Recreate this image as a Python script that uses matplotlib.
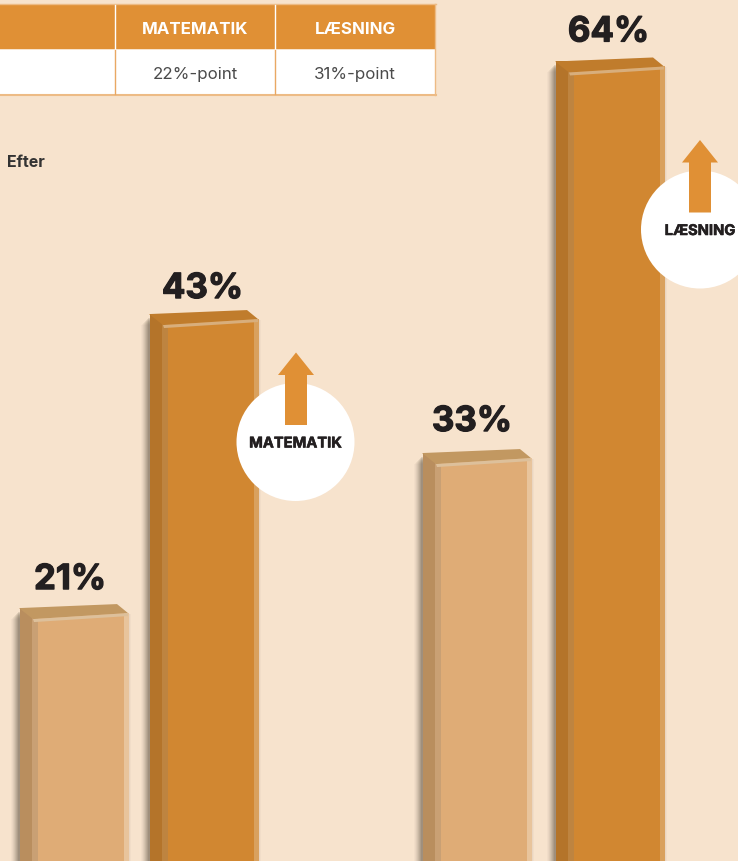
import matplotlib
matplotlib.use('Agg')
import matplotlib.pyplot as plt
import matplotlib.patheffects as pe
from matplotlib.patches import Polygon, Circle, Rectangle

# values printed on the bars
values = [21, 43, 33, 64]
# the bars in the picture are not quite to scale, so heights are read off separately
drawn_heights = [21, 43, 32.6, 61.9]
subjects = ['MATEMATIK', 'LÆSNING']
table_values = ['22%-point', '31%-point']

# left edge of each bar in pixels
bar_left = [19, 149, 422, 555]
label_dx = [51, 53.5, 50, 53.5]
label_dy = [28, 25, 31, 29]
light = dict(front='#DFAC76', side='#B98E5E', band='#C9A074', top='#C29861', edge='#E8C49C', hi='#DDC09B')
dark = dict(front='#D18731', side='#B4742A', band='#BE8440', top='#C07C2C', edge='#D9A15E', hi='#D8AE7C')
bar_styles = [light, dark, light, dark]

plt.rcParams['font.family'] = ['Inter', 'DejaVu Sans']

BG = '#F7E3CD'
ORANGE = '#E09035'
TEXT = '#231F20'

fig = plt.figure(figsize=(7.38, 8.62), dpi=100, facecolor=BG)

PX = 64.5 / 862  # one pixel in y units

# bars axis, x in pixels, y in percent
ax = fig.add_axes([0, 0, 1, 1])
ax.set_xlim(0, 738)
ax.set_ylim(2 + PX, 66.5 + PX)
ax.axis('off')

# overlay in pixels for table, circles and arrows
ov = fig.add_axes([0, 0, 1, 1])
ov.set_xlim(0, 738)
ov.set_ylim(861, -1)
ov.axis('off')
ov.patch.set_alpha(0)

for x0, h, val, st, dx, dy in zip(bar_left, drawn_heights, values, bar_styles, label_dx, label_dy):
    # soft shadow
    for i, a in zip(range(8, 0, -1), [0.03, 0.04, 0.06, 0.07, 0.09, 0.10, 0.12, 0.14]):
        ax.bar(x0 - i, h - (3 + i) * PX, width=i + 2, align='edge', color='#4A4030', alpha=a, lw=0, zorder=1)
    for i, a in zip([3, 2, 1], [0.03, 0.04, 0.05]):
        ax.bar(x0 + 100, h - 6 * PX, width=9 + i, align='edge', color='#4A4030', alpha=a, lw=0, zorder=1)

    ax.bar(x0 + 0.5, h, width=13, align='edge', color=st['side'], lw=0, zorder=2)
    ax.bar(x0 + 13, h - 10 * PX, width=7, align='edge', color=st['band'], lw=0, zorder=2)
    ax.bar(x0 + 19, h - 5 * PX, width=87, align='edge', color=st['front'], lw=0, zorder=2)
    ax.bar(x0 + 105, h - 5 * PX, width=5, align='edge', color=st['edge'], lw=0, zorder=2)

    top = [(x0, h), (x0 + 98, h + 4 * PX), (x0 + 109, h - 5 * PX), (x0 + 14, h - 11 * PX)]
    ax.add_patch(Polygon(top, closed=True, fc=st['top'], ec='none', zorder=3))
    hi = [(x0 + 14, h - 11 * PX), (x0 + 109, h - 5 * PX), (x0 + 109, h - 8 * PX), (x0 + 15, h - 14 * PX)]
    ax.add_patch(Polygon(hi, closed=True, fc=st['hi'], ec='none', zorder=3))

    t = ax.text(x0 + dx, h + dy * PX, f'{val}%', ha='center', va='center', fontsize=25,
                fontweight='bold', color=TEXT, zorder=5)
    t.set_path_effects([pe.withStroke(linewidth=0.9, foreground=TEXT)])

# table
ov.add_patch(Rectangle((-2, 4), 437.5, 45, fc=ORANGE, ec='none'))
ov.add_patch(Rectangle((-2, 49.5), 437.5, 45, fc='white', ec='none'))
ov.plot([-2, 435.5], [94.5, 94.5], color='#EDBB85', lw=1.5)
ov.plot([-2, 435.5], [3.8, 3.8], color='#EDBB85', lw=1)
ov.plot([435.3, 435.3], [4, 95], color='#EDBB85', lw=1)
for x in [114.5, 275]:
    ov.plot([x, x], [5, 49], color='white', lw=1)
    ov.plot([x, x], [50, 94], color='#E9A863', lw=1)
for cx, name, tv in zip([195, 355], subjects, table_values):
    ov.text(cx, 28.5, name, ha='center', va='center', fontsize=12.2, fontweight='bold', color='white')
    ov.text(cx, 73.5, tv, ha='center', va='center', fontsize=12.2, fontweight='normal', color='#4A4A4A')

ov.text(7, 161.5, 'Efter', ha='left', va='center', fontsize=11.5, fontweight='bold', color='#333333')

# circles with arrows
for cx, cy, stem, name, tx in [(295.5, 442, 296, subjects[0], 295.5), (700, 229.5, 700, subjects[1], 700)]:
    ov.add_patch(Circle((cx, cy), 59, fc='white', ec='none', zorder=4))
    tip = cy - 89.5
    arrow = [(stem, tip), (stem + 18, tip + 22.5), (stem + 11, tip + 22.5), (stem + 11, tip + 72.5),
             (stem - 11, tip + 72.5), (stem - 11, tip + 22.5), (stem - 18, tip + 22.5)]
    ov.add_patch(Polygon(arrow, closed=True, fc=ORANGE, ec='none', zorder=5))
    t = ov.text(tx, cy + 1.5, name, ha='center', va='center', fontsize=10.6, fontweight='bold', color=TEXT, zorder=6)
    t.set_path_effects([pe.withStroke(linewidth=0.4, foreground=TEXT)])

fig.savefig('out.png', dpi=100, facecolor=BG)
